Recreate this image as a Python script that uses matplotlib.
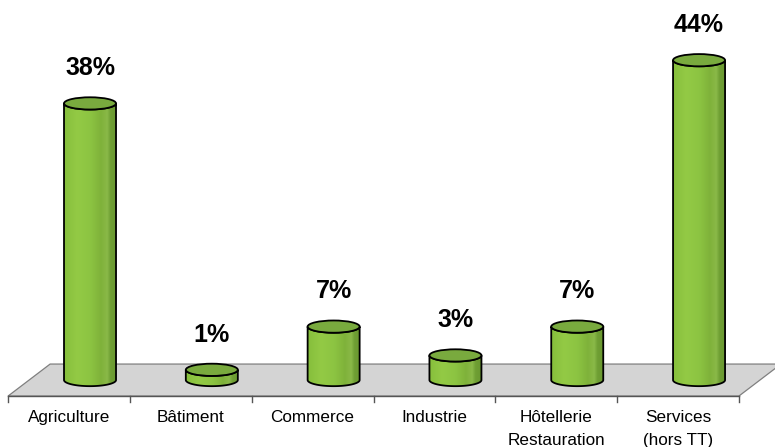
import matplotlib
matplotlib.use("Agg")
import matplotlib.pyplot as plt
import numpy as np
from matplotlib.patches import Polygon, Ellipse
from matplotlib.colors import LinearSegmentedColormap

plt.rcParams['font.family'] = ['Liberation Sans', 'DejaVu Sans']

categories = ["Agriculture", "Bâtiment", "Commerce", "Industrie",
              "Hôtellerie\nRestauration", "Services\n(hors TT)"]
values = [38, 1, 7, 3, 7, 44]
labels = ["38%", "1%", "7%", "3%", "7%", "44%"]

fig = plt.figure(figsize=(7.75, 4.47), dpi=100)
ax = fig.add_axes([0, 0, 1, 1])
ax.set_xlim(-0.5665, 5.796)
ax.set_ylim(-9.72, 52.36)
ax.axis("off")

# pseudo-3D floor
depth_x, depth_y = 0.345, 4.44
front = -2.64
n = len(categories)
floor = Polygon([(-0.5, front), (n - 0.5, front),
                 (n - 0.5 + depth_x, front + depth_y), (-0.5 + depth_x, front + depth_y)],
                closed=True, facecolor="#d4d4d4", edgecolor="#7f7f7f", lw=0.9, zorder=1)
ax.add_patch(floor)
ax.plot([-0.5, n - 0.5], [front, front], color="#555555", lw=1.0, zorder=2)
for k in range(n + 1):
    ax.plot([k - 0.5, k - 0.5], [front, front - 0.85], color="#555555", lw=1.0, zorder=2)

# cylinder bars
half_w = 0.2135
cap_h = 0.85
base = -0.42
body_cmap = LinearSegmentedColormap.from_list(
    "body", [(0.0, "#86bf3c"), (0.25, "#93ca45"), (0.5, "#8cc442"),
             (0.7, "#7fb23a"), (0.82, "#8ab948"), (0.88, "#6f9f34"), (1.0, "#6a9830")])
t = np.linspace(0, np.pi, 60)
for i, v in enumerate(values):
    cx = i + depth_x / 2
    x0, x1 = cx - half_w, cx + half_w
    bottom_front = [(cx - half_w * np.cos(a), base - cap_h * np.sin(a)) for a in t]
    top_front = [(cx + half_w * np.cos(a), v - cap_h * np.sin(a)) for a in t]
    body = Polygon(bottom_front + top_front, closed=True, facecolor="none",
                   edgecolor="black", lw=1.3, zorder=4)
    ax.add_patch(body)
    grad = np.linspace(0, 1, 200).reshape(1, -1)
    im = ax.imshow(grad, cmap=body_cmap, extent=[x0, x1, base - cap_h, v + cap_h],
                   aspect="auto", zorder=3, interpolation="bilinear")
    im.set_clip_path(body)
    cap = Ellipse((cx, v), 2 * half_w, 2 * cap_h, facecolor="#79aa3e",
                  edgecolor="black", lw=1.3, zorder=5)
    ax.add_patch(cap)
    ax.text(cx, v + 4.9, labels[i], ha="center", va="center",
            fontsize=18, fontweight="bold", color="black", zorder=6)

# category labels
for i, name in enumerate(categories):
    for j, line in enumerate(name.split("\n")):
        ax.text(i, -5.56 - j * 3.2, line, ha="center", va="center",
                fontsize=12.3, color="black")

fig.savefig("out.png", dpi=100)
